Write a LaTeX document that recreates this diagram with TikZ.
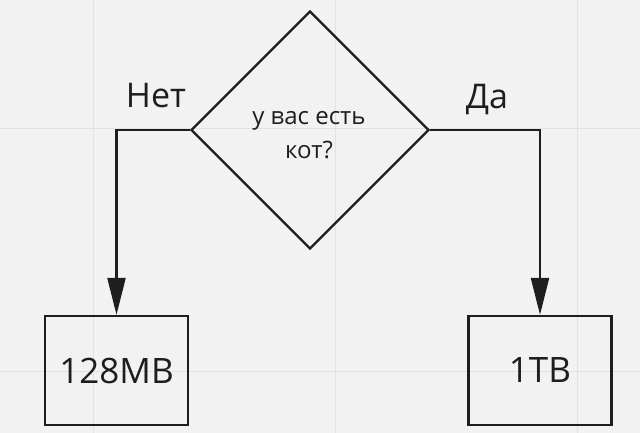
\documentclass[tikz,border=0pt]{standalone}
\usepackage{fontspec}
\setmainfont{Open Sans}
\usetikzlibrary{shapes.geometric,arrows.meta}
\definecolor{ink}{HTML}{1E1E1E}
\definecolor{bg}{HTML}{F2F2F2}
\definecolor{gridc}{HTML}{E2E2E2}
\begin{document}
\begin{tikzpicture}[x=1pt,y=-1pt,
  gridline/.style={draw=gridc,line width=1pt},
  decision/.style={diamond,draw=ink,line width=2.3pt,minimum width=238pt,minimum height=238pt,inner sep=0pt},
  qtext/.style={inner sep=0pt,text=ink,align=center,font=\fontsize{24}{34}\selectfont},
  box/.style={rectangle,draw=ink,line width=2.3pt,minimum width=143pt,minimum height=109pt,inner sep=0pt,text=ink,font=\fontsize{35}{40}\selectfont},
  lbl/.style={inner sep=0pt,text=ink,font=\fontsize{34}{40}\selectfont},
  conn/.style={draw=ink,line width=2.3pt,-{Triangle[length=37pt,width=18pt]}}]
\fill[bg] (0,0) rectangle (640,433);
\useasboundingbox (0,0) rectangle (640,433);
\foreach \x in {93,335,577} \draw[gridline] (\x,0) -- (\x,433);
\foreach \y in {129,371} \draw[gridline] (0,\y) -- (640,\y);
\node[decision] (d) at (310,130) {};
\node[qtext] (q) at (309,135) {у вас есть\\кот?};
\node[box] (b1) at (116.5,370.5) {128MB};
\node[box] (b2) at (540,370.5) {1TB};
\node[lbl] (no) at (156,96) {Нет};
\node[lbl] (yes) at (487,100) {Да};
\draw[conn] (d.west) -| (b1.north);
\draw[conn] (d.east) -| (b2.north);
\end{tikzpicture}
\end{document}
